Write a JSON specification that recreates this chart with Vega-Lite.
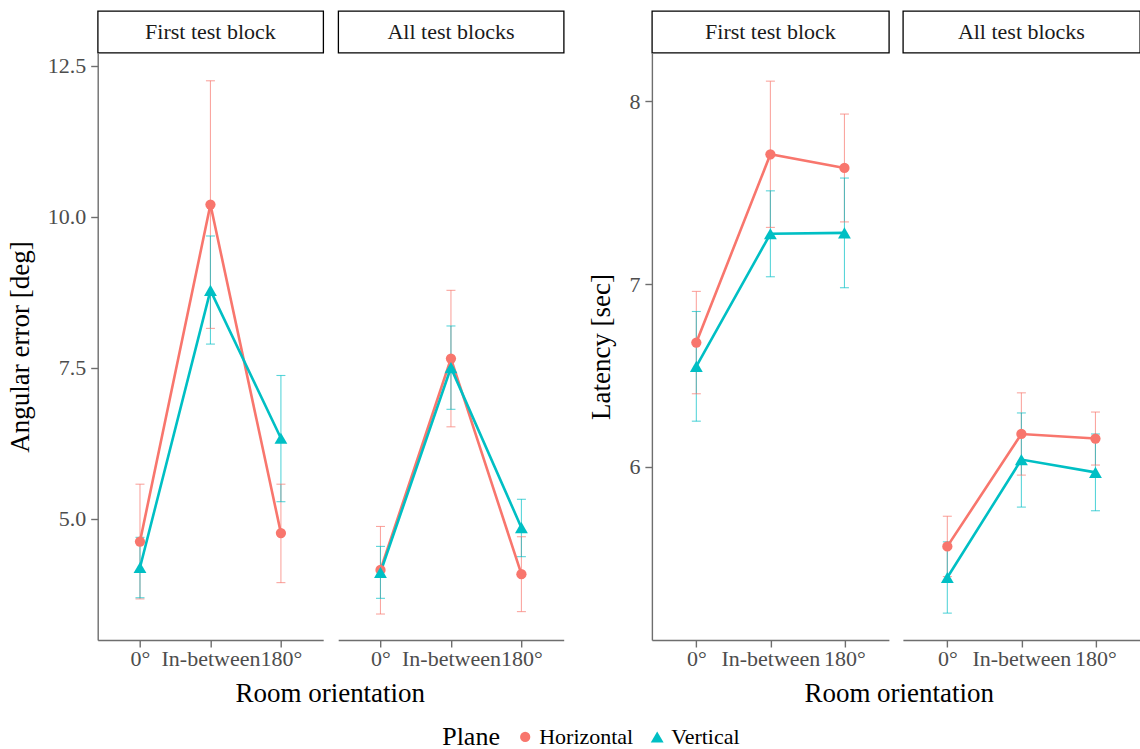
{
  "$schema": "https://vega.github.io/schema/vega-lite/v6.json",
  "padding": {"left": 5.7, "top": 10, "right": 0, "bottom": 0},
  "background": "white",
  "config": {
    "font": "Liberation Serif",
    "axis": {"labelFont": "Liberation Serif", "labelFontSize": 22, "labelColor": "#4D4D4D", "titleFont": "Liberation Serif", "titleFontSize": 27, "titleFontWeight": "normal", "titleColor": "black", "domainColor": "#6E6E6E", "domainWidth": 1.4, "tickColor": "#6E6E6E", "tickWidth": 1.4, "tickSize": 7, "grid": false, "labelPadding": 5},
    "axisX": {"labelAngle": 0, "labelPadding": 2},
    "axisY": {"titlePadding": 13},
    "legend": {"orient": "none", "legendX": 344.5, "legendY": 715, "padding": 0, "direction": "horizontal", "titleOrient": "left", "titleFont": "Liberation Serif", "titleFontSize": 26, "titleFontWeight": "normal", "titleColor": "black", "titlePadding": 14, "labelFont": "Liberation Serif", "labelFontSize": 22, "labelColor": "black", "symbolSize": 140, "symbolOpacity": 1, "symbolStrokeWidth": 0, "columnPadding": 12, "labelOffset": 3},
    "title": {"font": "Liberation Serif", "fontSize": 27, "fontWeight": "normal", "color": "black"}
  },
  "datasets": {
    "rows": [
      {"measure": "angular", "block": "First test block", "plane": "Horizontal", "orient": "0°", "mean": 4.62, "lo": 3.67, "hi": 5.57},
      {"measure": "angular", "block": "First test block", "plane": "Horizontal", "orient": "In-between", "mean": 10.2, "lo": 8.15, "hi": 12.25},
      {"measure": "angular", "block": "First test block", "plane": "Horizontal", "orient": "180°", "mean": 4.76, "lo": 3.94, "hi": 5.57},
      {"measure": "angular", "block": "First test block", "plane": "Vertical", "orient": "0°", "mean": 4.19, "lo": 3.69, "hi": 4.69},
      {"measure": "angular", "block": "First test block", "plane": "Vertical", "orient": "In-between", "mean": 8.78, "lo": 7.89, "hi": 9.68},
      {"measure": "angular", "block": "First test block", "plane": "Vertical", "orient": "180°", "mean": 6.33, "lo": 5.28, "hi": 7.37},
      {"measure": "angular", "block": "All test blocks", "plane": "Horizontal", "orient": "0°", "mean": 4.15, "lo": 3.42, "hi": 4.87},
      {"measure": "angular", "block": "All test blocks", "plane": "Horizontal", "orient": "In-between", "mean": 7.65, "lo": 6.52, "hi": 8.78},
      {"measure": "angular", "block": "All test blocks", "plane": "Horizontal", "orient": "180°", "mean": 4.08, "lo": 3.46, "hi": 4.70},
      {"measure": "angular", "block": "All test blocks", "plane": "Vertical", "orient": "0°", "mean": 4.11, "lo": 3.68, "hi": 4.54},
      {"measure": "angular", "block": "All test blocks", "plane": "Vertical", "orient": "In-between", "mean": 7.50, "lo": 6.81, "hi": 8.19},
      {"measure": "angular", "block": "All test blocks", "plane": "Vertical", "orient": "180°", "mean": 4.85, "lo": 4.37, "hi": 5.32},
      {"measure": "latency", "block": "First test block", "plane": "Horizontal", "orient": "0°", "mean": 6.68, "lo": 6.40, "hi": 6.96},
      {"measure": "latency", "block": "First test block", "plane": "Horizontal", "orient": "In-between", "mean": 7.71, "lo": 7.31, "hi": 8.11},
      {"measure": "latency", "block": "First test block", "plane": "Horizontal", "orient": "180°", "mean": 7.635, "lo": 7.34, "hi": 7.93},
      {"measure": "latency", "block": "First test block", "plane": "Vertical", "orient": "0°", "mean": 6.55, "lo": 6.25, "hi": 6.85},
      {"measure": "latency", "block": "First test block", "plane": "Vertical", "orient": "In-between", "mean": 7.275, "lo": 7.04, "hi": 7.51},
      {"measure": "latency", "block": "First test block", "plane": "Vertical", "orient": "180°", "mean": 7.28, "lo": 6.98, "hi": 7.58},
      {"measure": "latency", "block": "All test blocks", "plane": "Horizontal", "orient": "0°", "mean": 5.565, "lo": 5.40, "hi": 5.73},
      {"measure": "latency", "block": "All test blocks", "plane": "Horizontal", "orient": "In-between", "mean": 6.18, "lo": 5.955, "hi": 6.405},
      {"measure": "latency", "block": "All test blocks", "plane": "Horizontal", "orient": "180°", "mean": 6.155, "lo": 6.01, "hi": 6.30},
      {"measure": "latency", "block": "All test blocks", "plane": "Vertical", "orient": "0°", "mean": 5.395, "lo": 5.20, "hi": 5.59},
      {"measure": "latency", "block": "All test blocks", "plane": "Vertical", "orient": "In-between", "mean": 6.04, "lo": 5.78, "hi": 6.295},
      {"measure": "latency", "block": "All test blocks", "plane": "Vertical", "orient": "180°", "mean": 5.97, "lo": 5.76, "hi": 6.18}
    ],
    "strips": [
      {"block": "First test block"},
      {"block": "All test blocks"}
    ]
  },
  "spacing": 23.2,
  "hconcat": [
    {
      "columns": 2,
      "spacing": {"column": 14.5, "row": 0},
      "bounds": "flush",
      "title": {"text": "Room orientation", "orient": "bottom", "anchor": "middle", "offset": 11, "dx": 45},
      "concat": [
        {"width": 225.5, "height": 41.6, "data": {"name": "strips"}, "transform": [{"filter": "datum.block == 'First test block'"}], "view": {"stroke": "black", "strokeWidth": 1.3}, "mark": {"type": "text", "font": "Liberation Serif", "fontSize": 22, "color": "#1A1A1A"}, "encoding": {"text": {"field": "block"}}},
        {"width": 225.5, "height": 41.6, "data": {"name": "strips"}, "transform": [{"filter": "datum.block == 'All test blocks'"}], "view": {"stroke": "black", "strokeWidth": 1.3}, "mark": {"type": "text", "font": "Liberation Serif", "fontSize": 22, "color": "#1A1A1A"}, "encoding": {"text": {"field": "block"}}},
        {
          "width": 225.5, "height": 587, "view": {"stroke": null},
          "data": {"name": "rows"},
          "transform": [{"filter": "datum.measure == 'angular' && datum.block == 'First test block'"}],
          "encoding": {
            "x": {"field": "orient", "type": "ordinal", "title": null, "scale": {"type": "point", "padding": 0.6, "domain": ["0°", "In-between", "180°"]}},
            "color": {"field": "plane", "type": "nominal", "title": "Plane", "scale": {"domain": ["Horizontal", "Vertical"], "range": ["#F8766D", "#00BFC4"]}}
          },
          "layer": [
            {"mark": {"type": "rule", "opacity": 0.65, "strokeWidth": 1.1}, "encoding": {"y": {"field": "lo", "type": "quantitative", "title": "Angular error [deg]", "scale": {"domain": [2.99, 12.71], "nice": false, "zero": false}, "axis": {"values": [5, 7.5, 10, 12.5], "format": ".1f"}}, "y2": {"field": "hi"}}},
            {"mark": {"type": "tick", "opacity": 0.65, "size": 9, "thickness": 1.1}, "encoding": {"y": {"field": "lo", "type": "quantitative", "title": "Angular error [deg]"}}},
            {"mark": {"type": "tick", "opacity": 0.65, "size": 9, "thickness": 1.1}, "encoding": {"y": {"field": "hi", "type": "quantitative", "title": "Angular error [deg]"}}},
            {"mark": {"type": "line", "strokeWidth": 2.6}, "encoding": {"y": {"field": "mean", "type": "quantitative", "title": "Angular error [deg]"}, "detail": {"field": "plane"}}},
            {"mark": {"type": "point", "filled": true, "opacity": 1}, "encoding": {"y": {"field": "mean", "type": "quantitative", "title": "Angular error [deg]"}, "size": {"field": "plane", "type": "nominal", "title": "Plane", "scale": {"domain": ["Horizontal", "Vertical"], "range": [105, 165]}}, "shape": {"field": "plane", "type": "nominal", "title": "Plane", "scale": {"domain": ["Horizontal", "Vertical"], "range": ["circle", "triangle-up"]}}}}
          ]
        },
        {
          "width": 225.5, "height": 587, "view": {"stroke": null},
          "data": {"name": "rows"},
          "transform": [{"filter": "datum.measure == 'angular' && datum.block == 'All test blocks'"}],
          "encoding": {
            "x": {"field": "orient", "type": "ordinal", "title": null, "scale": {"type": "point", "padding": 0.6, "domain": ["0°", "In-between", "180°"]}},
            "color": {"field": "plane", "type": "nominal", "title": "Plane", "scale": {"domain": ["Horizontal", "Vertical"], "range": ["#F8766D", "#00BFC4"]}}
          },
          "layer": [
            {"mark": {"type": "rule", "opacity": 0.65, "strokeWidth": 1.1}, "encoding": {"y": {"field": "lo", "type": "quantitative", "axis": null, "scale": {"domain": [2.99, 12.71], "nice": false, "zero": false}}, "y2": {"field": "hi"}}},
            {"mark": {"type": "tick", "opacity": 0.65, "size": 9, "thickness": 1.1}, "encoding": {"y": {"field": "lo", "type": "quantitative", "axis": null}}},
            {"mark": {"type": "tick", "opacity": 0.65, "size": 9, "thickness": 1.1}, "encoding": {"y": {"field": "hi", "type": "quantitative", "axis": null}}},
            {"mark": {"type": "line", "strokeWidth": 2.6}, "encoding": {"y": {"field": "mean", "type": "quantitative", "axis": null}, "detail": {"field": "plane"}}},
            {"mark": {"type": "point", "filled": true, "opacity": 1}, "encoding": {"y": {"field": "mean", "type": "quantitative", "axis": null}, "size": {"field": "plane", "type": "nominal", "title": "Plane", "scale": {"domain": ["Horizontal", "Vertical"], "range": [105, 165]}}, "shape": {"field": "plane", "type": "nominal", "title": "Plane", "scale": {"domain": ["Horizontal", "Vertical"], "range": ["circle", "triangle-up"]}}}}
          ]
        }
      ]
    },
    {
      "columns": 2,
      "spacing": {"column": 14, "row": 0},
      "bounds": "flush",
      "title": {"text": "Room orientation", "orient": "bottom", "anchor": "middle", "offset": 11, "dx": 35},
      "concat": [
        {"width": 237, "height": 41.6, "data": {"name": "strips"}, "transform": [{"filter": "datum.block == 'First test block'"}], "view": {"stroke": "black", "strokeWidth": 1.3}, "mark": {"type": "text", "font": "Liberation Serif", "fontSize": 22, "color": "#1A1A1A"}, "encoding": {"text": {"field": "block"}}},
        {"width": 237, "height": 41.6, "data": {"name": "strips"}, "transform": [{"filter": "datum.block == 'All test blocks'"}], "view": {"stroke": "black", "strokeWidth": 1.3}, "mark": {"type": "text", "font": "Liberation Serif", "fontSize": 22, "color": "#1A1A1A"}, "encoding": {"text": {"field": "block"}}},
        {
          "width": 237, "height": 587, "view": {"stroke": null},
          "data": {"name": "rows"},
          "transform": [{"filter": "datum.measure == 'latency' && datum.block == 'First test block'"}],
          "encoding": {
            "x": {"field": "orient", "type": "ordinal", "title": null, "scale": {"type": "point", "padding": 0.6, "domain": ["0°", "In-between", "180°"]}},
            "color": {"field": "plane", "type": "nominal", "title": "Plane", "scale": {"domain": ["Horizontal", "Vertical"], "range": ["#F8766D", "#00BFC4"]}}
          },
          "layer": [
            {"mark": {"type": "rule", "opacity": 0.65, "strokeWidth": 1.1}, "encoding": {"y": {"field": "lo", "type": "quantitative", "title": "Latency [sec]", "scale": {"domain": [5.053, 8.264], "nice": false, "zero": false}, "axis": {"values": [6, 7, 8], "format": "d"}}, "y2": {"field": "hi"}}},
            {"mark": {"type": "tick", "opacity": 0.65, "size": 9, "thickness": 1.1}, "encoding": {"y": {"field": "lo", "type": "quantitative", "title": "Latency [sec]"}}},
            {"mark": {"type": "tick", "opacity": 0.65, "size": 9, "thickness": 1.1}, "encoding": {"y": {"field": "hi", "type": "quantitative", "title": "Latency [sec]"}}},
            {"mark": {"type": "line", "strokeWidth": 2.6}, "encoding": {"y": {"field": "mean", "type": "quantitative", "title": "Latency [sec]"}, "detail": {"field": "plane"}}},
            {"mark": {"type": "point", "filled": true, "opacity": 1}, "encoding": {"y": {"field": "mean", "type": "quantitative", "title": "Latency [sec]"}, "size": {"field": "plane", "type": "nominal", "title": "Plane", "scale": {"domain": ["Horizontal", "Vertical"], "range": [105, 165]}}, "shape": {"field": "plane", "type": "nominal", "title": "Plane", "scale": {"domain": ["Horizontal", "Vertical"], "range": ["circle", "triangle-up"]}}}}
          ]
        },
        {
          "width": 237, "height": 587, "view": {"stroke": null},
          "data": {"name": "rows"},
          "transform": [{"filter": "datum.measure == 'latency' && datum.block == 'All test blocks'"}],
          "encoding": {
            "x": {"field": "orient", "type": "ordinal", "title": null, "scale": {"type": "point", "padding": 0.6, "domain": ["0°", "In-between", "180°"]}},
            "color": {"field": "plane", "type": "nominal", "title": "Plane", "scale": {"domain": ["Horizontal", "Vertical"], "range": ["#F8766D", "#00BFC4"]}}
          },
          "layer": [
            {"mark": {"type": "rule", "opacity": 0.65, "strokeWidth": 1.1}, "encoding": {"y": {"field": "lo", "type": "quantitative", "axis": null, "scale": {"domain": [5.053, 8.264], "nice": false, "zero": false}}, "y2": {"field": "hi"}}},
            {"mark": {"type": "tick", "opacity": 0.65, "size": 9, "thickness": 1.1}, "encoding": {"y": {"field": "lo", "type": "quantitative", "axis": null}}},
            {"mark": {"type": "tick", "opacity": 0.65, "size": 9, "thickness": 1.1}, "encoding": {"y": {"field": "hi", "type": "quantitative", "axis": null}}},
            {"mark": {"type": "line", "strokeWidth": 2.6}, "encoding": {"y": {"field": "mean", "type": "quantitative", "axis": null}, "detail": {"field": "plane"}}},
            {"mark": {"type": "point", "filled": true, "opacity": 1}, "encoding": {"y": {"field": "mean", "type": "quantitative", "axis": null}, "size": {"field": "plane", "type": "nominal", "title": "Plane", "scale": {"domain": ["Horizontal", "Vertical"], "range": [105, 165]}}, "shape": {"field": "plane", "type": "nominal", "title": "Plane", "scale": {"domain": ["Horizontal", "Vertical"], "range": ["circle", "triangle-up"]}}}}
          ]
        }
      ]
    }
  ]
}
